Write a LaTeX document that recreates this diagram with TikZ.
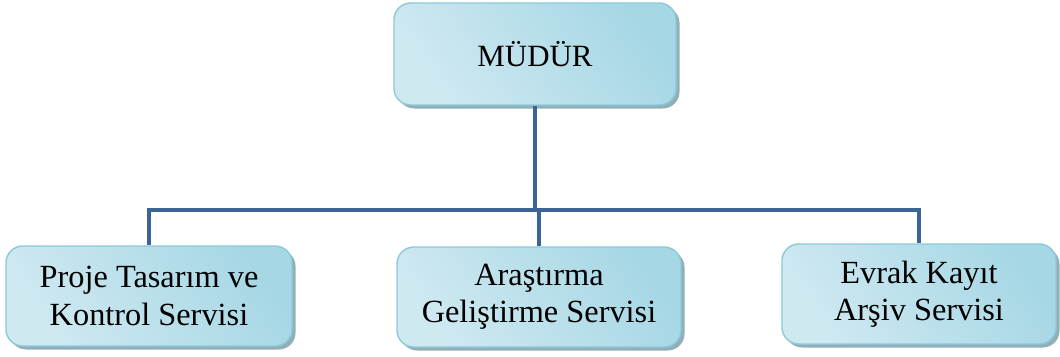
\documentclass[tikz,border=0pt]{standalone}
\usepackage{fontspec}
\setmainfont{Liberation Serif}
\newfontfamily\boxfont{Liberation Serif}
\usetikzlibrary{shadows}

\definecolor{boxlight}{HTML}{E4F2F7}
\definecolor{boxside}{HTML}{CFE9F1}
\definecolor{boxdark}{HTML}{A6D7E5}
\definecolor{boxedge}{HTML}{8CCADB}
\definecolor{linkblue}{HTML}{3B6497}

\begin{document}
\begin{tikzpicture}[x=0.025cm,y=-0.025cm,
                    unit node/.style={rectangle,rounded corners=12pt,draw=boxedge,line width=1pt,
                      top color=boxdark,middle color=boxlight,bottom color=boxside,shading angle=-55,
                      drop shadow={shadow xshift=2.5pt,shadow yshift=-2.5pt,fill=black!30!boxedge,opacity=0.7},
                      minimum height=2.5cm,align=center,
                      font=\boxfont\fontsize{23}{26.5}\selectfont},
                    link/.style={draw=linkblue,line width=2.8pt}]
  \useasboundingbox (0,0) rectangle (1060,356);

  \node[unit node,minimum width=7.05cm,minimum height=2.55cm,font=\boxfont\fontsize{22}{26}\selectfont] (mudur) at (535,54) {MÜDÜR};
  \node[unit node,minimum width=7.15cm] (proje) at (149,296) {Proje Tasarım ve\\Kontrol Servisi};
  \node[unit node,minimum width=7.1cm] (arastirma) at (539,297) {Araştırma\\Geliştirme Servisi};
  \node[unit node,minimum width=6.85cm] (evrak) at (919,294) {Evrak Kayıt\\Arşiv Servisi};

  \coordinate (bus) at (538,210);

  \path[link]
    (mudur.south) -- (mudur.south |- bus)
    (arastirma.north) -- (arastirma.north |- bus)
    (proje.north) |- (evrak.north |- bus) -- (evrak.north);
\end{tikzpicture}
\end{document}
